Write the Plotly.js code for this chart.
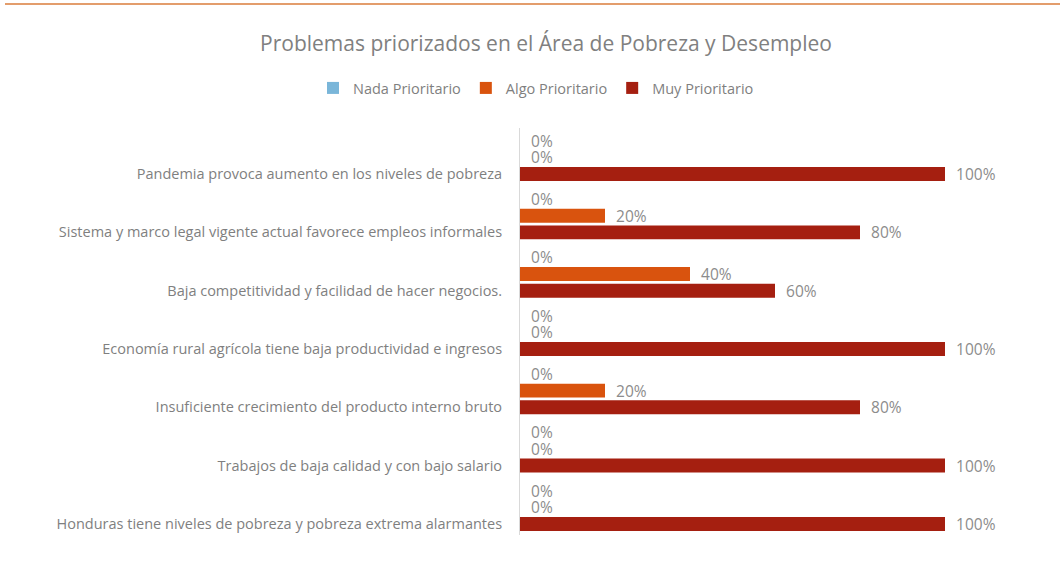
<!DOCTYPE html>
<html>
<head>
<meta charset="utf-8">
<script src="https://cdn.plot.ly/plotly-3.0.1.min.js"></script>
<style>
  html, body { margin: 0; padding: 0; background: #ffffff; }
  #chart { width: 1060px; height: 561px; }
</style>
</head>
<body>
<div id="chart"></div>
<script>
const categories = [
  "Pandemia provoca aumento en los niveles de pobreza",
  "Sistema y marco legal vigente actual favorece empleos informales",
  "Baja competitividad y facilidad de hacer negocios.",
  "Economía rural agrícola tiene baja productividad e ingresos",
  "Insuficiente crecimiento del producto interno bruto",
  "Trabajos de baja calidad y con bajo salario",
  "Honduras tiene niveles de pobreza y pobreza extrema alarmantes"
];
const seriesNames = ["Nada Prioritario", "Algo Prioritario", "Muy Prioritario"];
const nadaPrioritario = [0, 0, 0, 0, 0, 0, 0];
const algoPrioritario = [0, 20, 40, 0, 20, 0, 0];
const muyPrioritario  = [100, 80, 60, 100, 80, 100, 100];
const seriesColors = ["#7AB6D9", "#D9530E", "#A51F10"];

const FONT = "Open Sans, Lato, sans-serif";
const barWidth = 0.24;
const slot = 0.286;
const seriesValues = [nadaPrioritario, algoPrioritario, muyPrioritario];
const labelFont = { family: FONT, size: 15.5, color: "#8c8c8c" };

const traces = seriesValues.map((vals, k) => ({
  type: "bar",
  orientation: "h",
  name: seriesNames[k],
  y: categories,
  x: vals,
  width: barWidth,
  offset: -barWidth / 2 - (2 - k) * slot,
  marker: { color: seriesColors[k] },
  text: vals.map(v => "\u00a0\u00a0" + v + "%"),
  texttemplate: "%{text}",
  textposition: "outside",
  constraintext: "none",
  cliponaxis: false,
  textfont: labelFont,
  outsidetextfont: labelFont,
  insidetextfont: labelFont,
  hoverinfo: "x+y"
}));

const layout = {
  width: 1060,
  height: 561,
  paper_bgcolor: "#ffffff",
  plot_bgcolor: "#ffffff",
  margin: { l: 520, r: 115, t: 128, b: 26 },
  barmode: "overlay",
  font: { family: FONT, color: "#7f7f7f" },
  title: {
    text: "Problemas priorizados en el Área de Pobreza y Desempleo",
    font: { family: FONT, size: 21, color: "#808080" },
    xref: "container", x: 546 / 1060, xanchor: "center",
    yref: "container", y: 1 - 44 / 561, yanchor: "middle"
  },
  showlegend: true,
  legend: {
    orientation: "h",
    xref: "paper", x: (313 - 520) / 425, xanchor: "left",
    yref: "paper", y: (535 - 88) / 407, yanchor: "middle",
    font: { family: FONT, size: 14.5, color: "#7f7f7f" },
    traceorder: "normal"
  },
  xaxis: {
    range: [0, 100],
    visible: false,
    showgrid: false,
    zeroline: false,
    fixedrange: true
  },
  yaxis: {
    type: "category",
    autorange: false,
    range: [6.19, -0.79],
    showline: true,
    linecolor: "#d9d9d9",
    linewidth: 1,
    showgrid: false,
    zeroline: false,
    ticks: "",
    ticklabelstandoff: 14,
    tickfont: { family: FONT, size: 14.5, color: "#7f7f7f" },
    fixedrange: true
  },
  shapes: [{
    type: "line",
    xref: "paper", yref: "paper",
    x0: (5 - 520) / 425, x1: (1060 - 520) / 425,
    y0: (535 - 4) / 407, y1: (535 - 4) / 407,
    line: { color: "#E39D6C", width: 2 }
  }]
};

Plotly.newPlot("chart", traces, layout, { displayModeBar: false, staticPlot: true });
</script>
</body>
</html>
